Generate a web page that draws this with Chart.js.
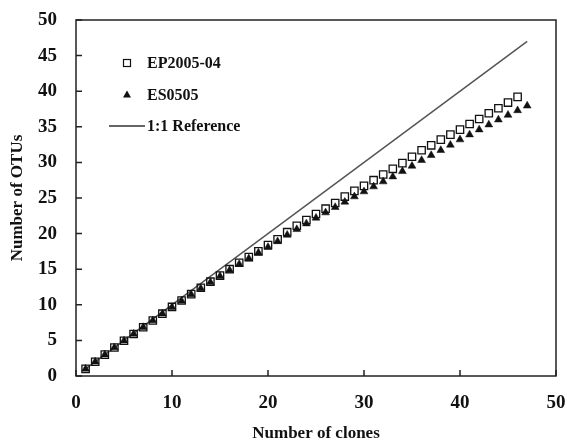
<!DOCTYPE html>
<html><head><meta charset="utf-8">
<script src="https://cdn.jsdelivr.net/npm/chart.js@4"></script>
<style>html,body{margin:0;padding:0;background:#fff}#wrap{width:567px;height:442px;position:relative}</style>
</head><body><div id="wrap"><canvas id="c" width="567" height="442"></canvas></div>
<script>
const clonesEP = [1,2,3,4,5,6,7,8,9,10,11,12,13,14,15,16,17,18,19,20,21,22,23,24,25,26,27,28,29,30,31,32,33,34,35,36,37,38,39,40,41,42,43,44,45,46];
const otusEP = [1.0,2.0,3.0,4.0,4.95,5.9,6.85,7.8,8.75,9.7,10.6,11.5,12.4,13.25,14.1,15.0,15.9,16.7,17.5,18.4,19.2,20.2,21.1,21.9,22.75,23.5,24.3,25.2,26.0,26.7,27.5,28.3,29.1,29.9,30.8,31.7,32.4,33.2,33.9,34.6,35.4,36.1,36.9,37.6,38.4,39.2];
const clonesES = [1,2,3,4,5,6,7,8,9,10,11,12,13,14,15,16,17,18,19,20,21,22,23,24,25,26,27,28,29,30,31,32,33,34,35,36,37,38,39,40,41,42,43,44,45,46,47];
const otusES = [1.0,2.0,3.0,4.0,4.95,5.9,6.85,7.8,8.75,9.65,10.55,11.45,12.3,13.15,14.0,14.85,15.7,16.5,17.3,18.1,18.9,19.8,20.6,21.4,22.2,22.95,23.7,24.45,25.2,25.9,26.6,27.3,28.0,28.75,29.5,30.3,31.0,31.7,32.45,33.2,33.9,34.6,35.3,36.0,36.65,37.3,37.95];
const refX = [1, 47];
const refY = [1, 47];
const xTicks = [0,10,20,30,40,50];
const yTicks = [0,5,10,15,20,25,30,35,40,45,50];
const labels = ['EP2005-04','ES0505','1:1 Reference'];

const FONT = 'Liberation Serif, Times New Roman, serif';
const pts = (xs, ys) => xs.map((x,i)=>({x, y: ys[i]}));

const framePlugin = {
  id: 'frame',
  afterDraw(chart){
    const {ctx, chartArea:a, scales:{x, y}} = chart;
    ctx.save();
    ctx.strokeStyle = '#222';
    ctx.lineWidth = 1.5;
    ctx.strokeRect(a.left, a.top, a.right - a.left, a.bottom - a.top);
    ctx.beginPath();
    x.ticks.forEach(t => { const px = x.getPixelForValue(t.value); ctx.moveTo(px, a.bottom); ctx.lineTo(px, a.bottom - 6); });
    y.ticks.forEach(t => { const py = y.getPixelForValue(t.value); ctx.moveTo(a.left, py); ctx.lineTo(a.left + 6, py); });
    ctx.stroke();
    // legend inside plot area
    const symX = a.left + 51, textX = a.left + 71;
    const rows = [a.top + 43, a.top + 75, a.top + 106];
    ctx.font = 'bold 16px ' + FONT;
    ctx.fillStyle = '#111';
    ctx.textBaseline = 'middle';
    ctx.textAlign = 'left';
    chart.data.datasets.forEach((ds, i) => {
      const cy = rows[i];
      if (ds.pointStyle === 'rect') {
        ctx.lineWidth = 1.2; ctx.strokeStyle = '#111';
        ctx.strokeRect(symX - 3.5, cy - 3.5, 7, 7);
      } else if (ds.pointStyle === 'triangle') {
        ctx.beginPath();
        ctx.moveTo(symX, cy - 4.5); ctx.lineTo(symX + 4, cy + 2.5); ctx.lineTo(symX - 4, cy + 2.5); ctx.closePath();
        ctx.fillStyle = '#111'; ctx.fill();
      } else {
        ctx.beginPath(); ctx.lineWidth = 1.3; ctx.strokeStyle = '#333';
        ctx.moveTo(a.left + 33, cy); ctx.lineTo(a.left + 69, cy); ctx.stroke();
      }
      ctx.fillStyle = '#111';
      ctx.fillText(ds.label, textX, cy + 1);
    });
    ctx.restore();
  }
};

new Chart(document.getElementById('c'), {
  type: 'scatter',
  data: {
    datasets: [
      { label: labels[0], data: pts(clonesEP, otusEP), pointStyle: 'rect', pointRadius: 5.2, pointBackgroundColor: 'rgba(255,255,255,0)', pointBorderColor: '#111', pointBorderWidth: 1.3, showLine: false },
      { label: labels[1], data: pts(clonesES, otusES), pointStyle: 'triangle', pointRadius: 4.5, pointBackgroundColor: '#111', pointBorderColor: '#111', pointBorderWidth: 0.5, showLine: false },
      { label: labels[2], data: pts(refX, refY), showLine: true, pointRadius: 0, borderColor: '#555', borderWidth: 1.5, pointStyle: 'line' }
    ]
  },
  options: {
    responsive: false,
    animation: false,
    devicePixelRatio: 1,
    layout: { padding: { left: 0, top: 20, right: 11, bottom: 0 } },
    plugins: { legend: { display: false }, tooltip: { enabled: false } },
    scales: {
      x: {
        type: 'linear', min: 0, max: 50,
        afterBuildTicks: s => { s.ticks = xTicks.map(v => ({ value: v })); },
        ticks: { font: { family: FONT, weight: 'bold', size: 19 }, color: '#111', padding: 16, maxRotation: 0, autoSkip: false },
        grid: { display: false, drawTicks: false },
        border: { display: false },
        title: { display: true, text: 'Number of clones', color: '#111', font: { family: FONT, weight: 'bold', size: 17, lineHeight: 1 }, padding: 0 },
        afterFit: s => { s.height = 66; s.paddingLeft = 0; s.paddingRight = 0; s.paddingTop = 0; s.paddingBottom = 0; }
      },
      y: {
        type: 'linear', min: 0, max: 50,
        afterBuildTicks: s => { s.ticks = yTicks.map(v => ({ value: v })); },
        ticks: { font: { family: FONT, weight: 'bold', size: 19 }, color: '#111', padding: 19, autoSkip: false },
        grid: { display: false, drawTicks: false },
        border: { display: false },
        title: { display: true, text: 'Number of OTUs', color: '#111', font: { family: FONT, weight: 'bold', size: 17, lineHeight: 1 }, padding: { top: 9, bottom: 0 } },
        afterFit: s => { s.width = 76; s.paddingLeft = 0; s.paddingRight = 0; s.paddingTop = 0; s.paddingBottom = 0; }
      }
    }
  },
  plugins: [framePlugin]
});
</script></body></html>
